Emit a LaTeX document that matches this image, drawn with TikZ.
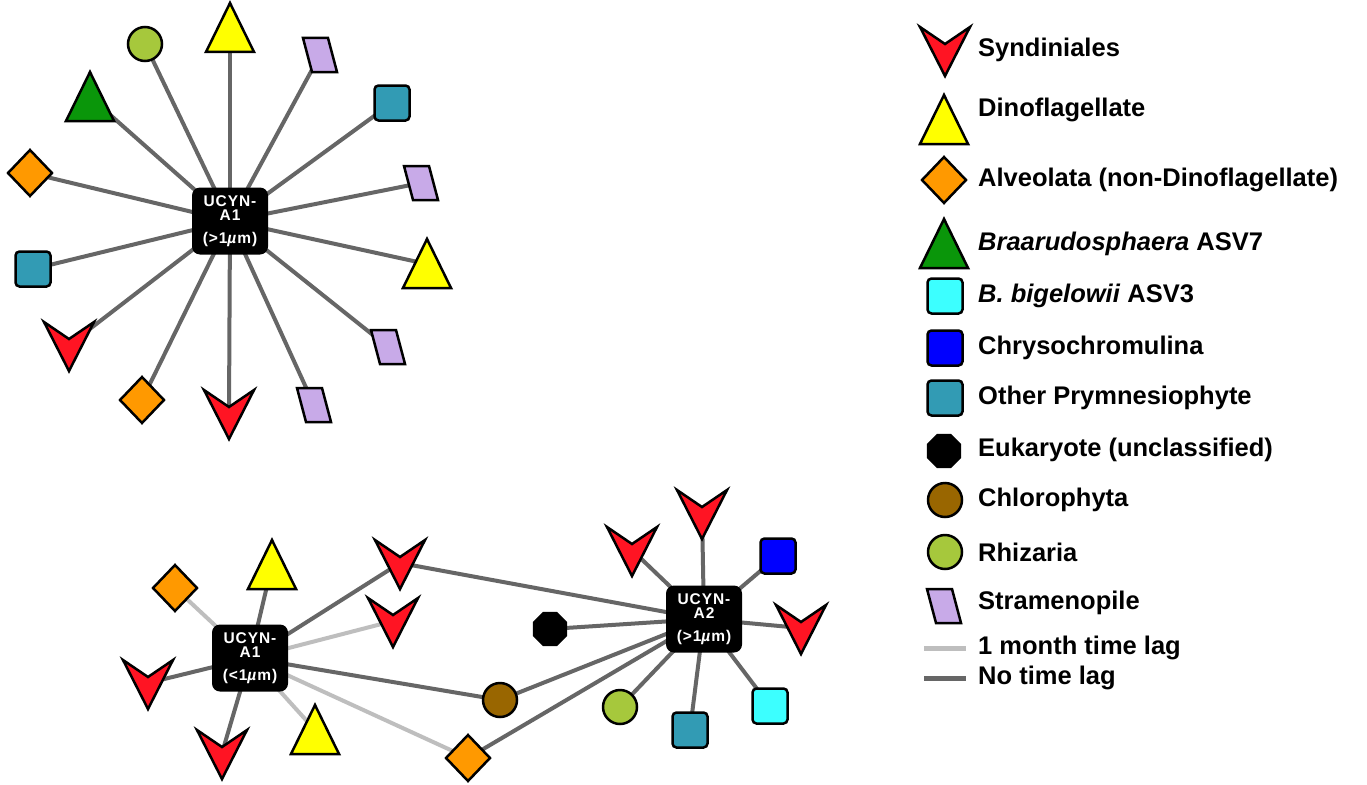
\documentclass[tikz,border=0pt]{standalone}
\usepackage{fontspec}
\setmainfont{Liberation Sans}
\usetikzlibrary{shapes.geometric,backgrounds}
\definecolor{synd}{RGB}{255,20,35}
\definecolor{dino}{RGB}{255,255,0}
\definecolor{alv}{RGB}{255,153,0}
\definecolor{braa}{RGB}{10,150,10}
\definecolor{bbig}{RGB}{60,255,255}
\definecolor{chry}{RGB}{0,0,255}
\definecolor{oprym}{RGB}{50,155,180}
\definecolor{chlo}{RGB}{153,102,0}
\definecolor{rhiz}{RGB}{166,200,60}
\definecolor{stram}{RGB}{200,170,232}
\definecolor{dkgray}{RGB}{102,102,102}
\definecolor{ltgray}{RGB}{190,190,190}
\newcommand\syndV[2]{%
  \coordinate (#1) at (#2);
  \draw[shp, fill=synd, line join=miter, shift={(#2)}] (-25,-23) -- (0,-6) -- (25,-23) -- (0,26) -- cycle;}
\newcommand\triS[3]{%
  \coordinate (#1) at (#2);
  \draw[shp, fill=#3, line join=miter, shift={(#2)}] (0,-25) -- (24,24) -- (-24,24) -- cycle;}
\newcommand\straP[2]{%
  \coordinate (#1) at (#2);
  \draw[shp, fill=stram, line join=miter, shift={(#2)}] (-17,-17) -- (8,-17) -- (17,17) -- (-8,17) -- cycle;}
\begin{document}
\begin{tikzpicture}[x=1pt,y=-1pt,
  shp/.style={draw=black, line width=2.5pt, inner sep=0pt},
  circ/.style={shp, circle, minimum size=34pt},
  sq/.style={shp, rectangle, rounded corners=4pt, minimum size=35pt},
  dia/.style={shp, diamond, minimum width=45pt, minimum height=47pt, fill=alv},
  oct/.style={regular polygon, regular polygon sides=8, minimum size=37pt, fill=black, inner sep=0pt},
  hub/.style={fill=black, rounded corners=8pt, minimum width=76pt, minimum height=67pt, inner sep=0pt, text=white, align=center, font=\bfseries\fontsize{15.5}{14.5}\selectfont\addfontfeature{LetterSpace=6}},
  dk/.style={line width=4pt, draw=dkgray},
  lt/.style={line width=4pt, draw=ltgray},
  lab/.style={anchor=west, inner sep=0pt, font=\bfseries\fontsize{25.5}{27}\selectfont}
]
\useasboundingbox (0,0) rectangle (1367,784);

% ---------- top cluster ----------
\node[hub] (T) at (230,221) {UCYN-\\A1\\[8pt](>1\textit{µ}m)};
\node[circ, fill=rhiz] (rz1) at (145,44) {};
\triS{y1}{230,28}{dino}
\straP{st1}{320,55}
\triS{gr}{90,97}{braa}
\node[sq, fill=oprym] (tp1) at (392,103) {};
\node[dia] (d1) at (30,173) {};
\straP{st2}{421,183}
\node[sq, fill=oprym] (tp2) at (33,269) {};
\triS{y2}{427,264}{dino}
\syndV{v1}{69,345}
\straP{st3}{388,347}
\node[dia] (d2) at (142,400) {};
\syndV{v2}{229,413}
\straP{st4}{314,405}

% ---------- bottom clusters ----------
\node[hub] (B) at (250,658) {UCYN-\\A1\\[8pt](<1\textit{µ}m)};
\node[hub] (C) at (704,619) {UCYN-\\A2\\[8pt](>1\textit{µ}m)};
\node[dia] (bd1) at (175,588) {};
\triS{by1}{272,565}{dino}
\syndV{bv1}{400,563}
\syndV{bv2}{393,621}
\syndV{bv3}{148,683}
\syndV{bv4}{222,753}
\triS{by2}{315,730}{dino}
\node[circ, fill=chlo] (bch) at (500,700) {};
\node[dia] (bd2) at (468,758) {};
\syndV{cv1}{632,550}
\syndV{cv2}{702,513}
\node[sq, fill=chry] (cb) at (778,556) {};
\syndV{cv3}{801,628}
\node[oct] (co) at (550,629) {};
\node[circ, fill=rhiz] (crz) at (620,707) {};
\node[sq, fill=oprym] (ctp) at (690,730) {};
\node[sq, fill=bbig] (ccy) at (770,706) {};

% ---------- legend ----------
\syndV{L1}{945,50}
\node[lab] (t1) at (978,50) {Syndiniales};
\triS{L2}{944,120}{dino}
\node[lab] (t2) at (978,110) {Dinoflagellate};
\node[dia] (L3) at (944,180) {};
\node[lab] (t3) at (978,180) {Alveolata (non-Dinoflagellate)};
\triS{L4}{944,244}{braa}
\node[lab] (t4) at (978,244) {\textit{Braarudosphaera} ASV7};
\node[sq, fill=bbig] (L5) at (945,296) {};
\node[lab] (t5) at (978,296) {\textit{B. bigelowii} ASV3};
\node[sq, fill=chry] (L6) at (945,348) {};
\node[lab] (t6) at (978,348) {Chrysochromulina};
\node[sq, fill=oprym] (L7) at (945,398) {};
\node[lab] (t7) at (978,398) {Other Prymnesiophyte};
\node[oct] (L8) at (944,451) {};
\node[lab] (t8) at (978,450) {Eukaryote (unclassified)};
\node[circ, fill=chlo] (L9) at (945,500) {};
\node[lab] (t9) at (978,500) {Chlorophyta};
\node[circ, fill=rhiz] (L10) at (945,552) {};
\node[lab] (t10) at (978,552) {Rhizaria};
\straP{L11}{944,606}
\node[lab] (t11) at (978,603) {Stramenopile};
\coordinate (la) at (924,648);
\coordinate (lb) at (966,648);
\coordinate (lc) at (924,678);
\coordinate (ld) at (966,678);
\node[lab] (t12) at (978,648) {1 month time lag};
\node[lab] (t13) at (978,678) {No time lag};

% ---------- connectors ----------
\begin{scope}[on background layer]
  \fill[white] (0,0) rectangle (1367,784);
  \foreach \n in {rz1,y1,st1,gr,tp1,d1,st2,tp2,y2,v1,st3,d2,v2,st4}
    \draw[dk] (T.center) -- (\n.center);
  \foreach \n in {by1,bv1,bv3,bv4,bch}
    \draw[dk] (B.center) -- (\n.center);
  \foreach \n in {bd1,bv2,by2,bd2}
    \draw[lt] (B.center) -- (\n.center);
  \foreach \n in {bv1,cv1,cv2,cb,cv3,co,bch,bd2,crz,ctp,ccy}
    \draw[dk] (C.center) -- (\n.center);
  \draw[line width=5pt, draw=ltgray] (la) -- (lb);
  \draw[line width=5pt, draw=dkgray] (lc) -- (ld);
\end{scope}
\end{tikzpicture}
\end{document}
